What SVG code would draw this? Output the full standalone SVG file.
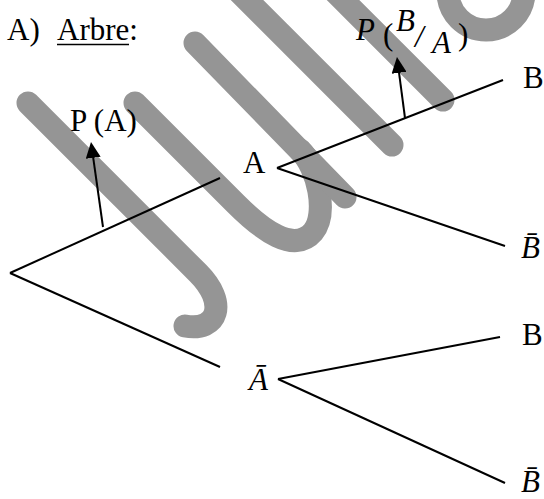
<svg xmlns="http://www.w3.org/2000/svg" width="544" height="499" viewBox="0 0 544 499">
<style>
.wm{fill:none;stroke:#959595;stroke-width:23;stroke-linecap:round;stroke-linejoin:round}
.edge{fill:none;stroke:#000;stroke-width:2}
.t{font-family:"Liberation Serif","Times New Roman",serif;font-size:31px;fill:#000}
.m{font-family:"Liberation Serif","Times New Roman",serif;font-style:italic;font-size:31px;fill:#000}
</style>
<defs>
<marker id="arr" markerUnits="userSpaceOnUse" viewBox="0 0 16 15" markerWidth="16" markerHeight="15" refX="8" refY="7.5" orient="auto">
<path d="M0,0 L16,7.5 L0,15 Z" fill="#000"/>
</marker>
</defs>
<rect width="544" height="499" fill="#fff"/>
<g id="watermark">
<path class="wm" d="M28,103 L198,273 C228,303 218,332 185,326"/>
<path class="wm" d="M135,103 L236,204 C262,230 294,254 313,232 C328,214 318,168 300,150"/>
<path class="wm" d="M195,43 L345,197"/>
<path class="wm" d="M170,-77 L392,145"/>
<path class="wm" d="M320,-23 L443,100"/>
<path class="wm" d="M448,-8 A38,38 0 0 0 524,-8"/>
</g>
<g id="title">
<text class="t" x="7" y="40">A)</text>
<text class="t" x="57" y="40">Arbre:</text>
<line x1="57" y1="44.5" x2="129" y2="44.5" stroke="#000" stroke-width="1.5"/>
</g>
<g id="connectors">
<path class="edge" d="M10,273 L220,178"/>
<path class="edge" d="M10,273 L220,367"/>
<path class="edge" d="M277,168 L503,80"/>
<path class="edge" d="M277,168 L505,246"/>
<path class="edge" d="M278,379 L500,337"/>
<path class="edge" d="M278,379 L505,483"/>
<path class="edge" d="M103,227 L92.1,149.9" marker-end="url(#arr)"/>
<path class="edge" d="M405,118 L398,64.9" marker-end="url(#arr)"/>
</g>
<g id="label-pA"><text class="t" x="70" y="131">P (A)</text></g>
<g id="label-pBA">
<text class="m" x="356" y="40" font-size="27">P</text>
<text class="t" x="383" y="45" font-size="40">(</text>
<text class="m" x="396" y="31" font-size="23">B</text>
<text class="m" x="415" y="47" font-size="34">/</text>
<text class="m" x="432" y="53" font-size="27">A</text>
<text class="t" x="458" y="45" font-size="40">)</text>
</g>
<g id="node-A"><text class="t" x="243" y="173">A</text></g>
<g id="node-Abar"><text class="m" x="249" y="390">Ā</text></g>
<g id="node-B1"><text class="t" x="523" y="88">B</text></g>
<g id="node-Bbar1"><text class="m" x="521" y="258">B̄</text></g>
<g id="node-B2"><text class="t" x="522" y="345">B</text></g>
<g id="node-Bbar2"><text class="m" x="521" y="492">B̄</text></g>
</svg>
